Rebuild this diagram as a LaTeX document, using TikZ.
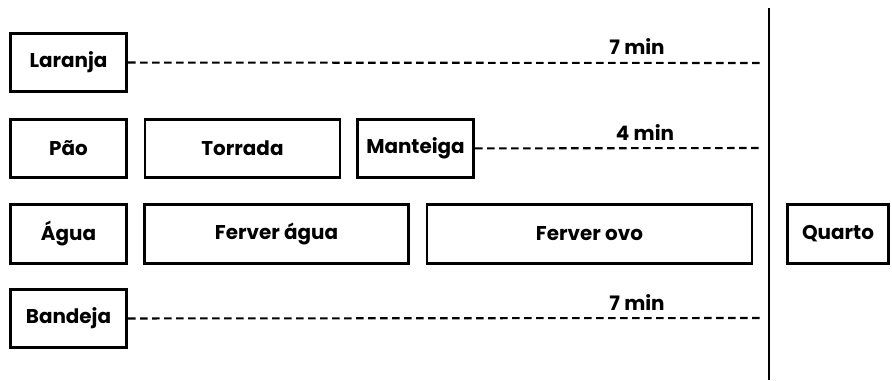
\documentclass[tikz,border=0pt]{standalone}
\usepackage{fontspec}
\setmainfont{Poppins}
\usepackage{tikz}

\begin{document}
\begin{tikzpicture}[x=0.03cm, y=-0.03cm,
  every node/.style={draw, line width=2.3pt, minimum height=1.75cm, font=\fontsize{17}{18}\selectfont\bfseries, inner sep=1pt},
  tempo/.style={draw=none, minimum height=0pt, font=\fontsize{17}{18}\selectfont\bfseries},
  espera/.style={dashed, line width=1.8pt, dash pattern=on 0.22cm off 0.14cm}]
  \useasboundingbox (0,0) rectangle (892,380);
  \node[minimum width=3.5cm] (laranja) at (68.5,62.5) {Laranja};
  \node[minimum width=3.5cm] (pao) at (68.5,148.5) {Pão};
  \node[minimum width=5.85cm] (torrada) at (242.5,148.5) {Torrada};
  \node[minimum width=3.5cm] (manteiga) at (415.5,148.5) {Manteiga};
  \node[minimum width=3.5cm] (agua) at (68.5,234) {Água};
  \node[minimum width=7.9cm] (ferveragua) at (276.5,234) {Ferver água};
  \node[minimum width=9.75cm] (ferverovo) at (589.5,234) {Ferver ovo};
  \node[minimum width=3.05cm] (quarto) at (838,234) {Quarto};
  \node[minimum width=3.5cm] (bandeja) at (68.5,318.5) {Bandeja};
  % fim da janela de tempo
  \coordinate (topo) at (769,8);
  \coordinate (base) at (769,380);
  \draw[line width=2.4pt] (topo) -- (base);
  \coordinate (fimL) at (762,63);
  \coordinate (fimM) at (762,148);
  \coordinate (fimB) at (762,318);
  \draw[espera] (laranja) -- (fimL);
  \draw[espera] (manteiga) -- (fimM);
  \draw[espera] (bandeja) -- (fimB);
  \node[tempo] (t1) at (637,47) {7 min};
  \node[tempo] (t2) at (645,133) {4 min};
  \node[tempo] (t3) at (637,303) {7 min};
\end{tikzpicture}
\end{document}
